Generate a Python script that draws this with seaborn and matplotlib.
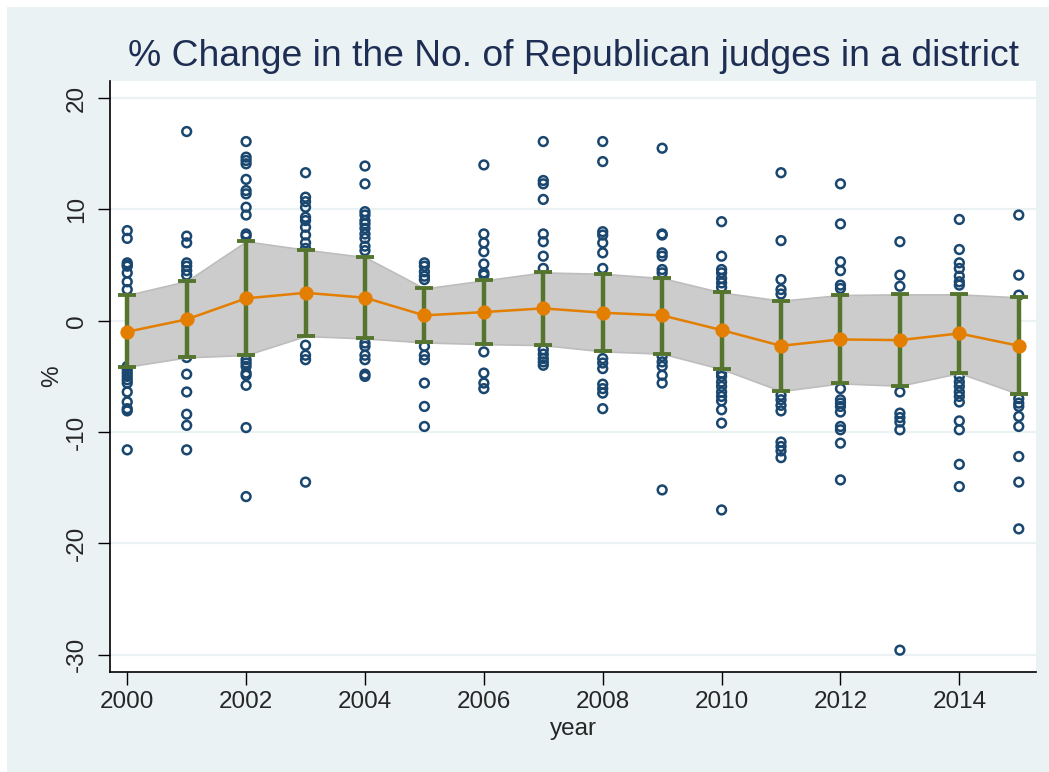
import numpy as np
import pandas as pd
import matplotlib
matplotlib.use("Agg")
import matplotlib.pyplot as plt
from matplotlib.patches import Rectangle
import seaborn as sns

# ---- data: % change in the number of Republican judges per district ----
years = list(range(2000, 2016))

changes_2000 = [8.1, 7.4, 5.2, 5.0, 4.9, 4.3, 3.5, 2.8, -4.1, -4.4, -4.7, -5.0, -5.3, -5.6, -6.4, -7.3, -7.9, -8.1, -11.6]
changes_2001 = [17.0, 7.6, 7.0, 5.2, 4.9, 4.5, 4.1, -3.3, -4.8, -6.4, -8.4, -9.4, -11.6]
changes_2002 = [16.1, 14.7, 14.4, 14.1, 12.7, 11.7, 11.4, 10.2, 9.5, 7.8, 7.6, -3.5, -3.8, -4.1, -4.7, -4.9, -5.8, -9.6, -15.8]
changes_2003 = [13.3, 11.1, 10.7, 10.2, 9.3, 9.0, 8.4, 7.7, 7.0, 6.5, -2.2, -3.1, -3.5, -14.5]
changes_2004 = [13.9, 12.3, 9.8, 9.5, 9.0, 8.7, 8.3, 7.8, 7.4, 6.7, 6.3, -2.0, -2.3, -3.1, -3.5, -4.8, -5.0]
changes_2005 = [5.2, 4.9, 4.4, 4.0, 3.7, -2.3, -3.1, -3.5, -5.6, -7.7, -9.5]
changes_2006 = [14.0, 7.8, 7.0, 6.2, 5.1, 4.3, 4.1, -2.8, -4.7, -5.6, -6.1]
changes_2007 = [16.1, 12.6, 12.3, 10.9, 7.8, 7.1, 5.8, 4.7, -2.6, -3.0, -3.4, -3.7, -4.0]
changes_2008 = [16.1, 14.3, 8.0, 7.7, 7.0, 6.1, 4.7, -3.4, -3.8, -4.3, -5.7, -6.1, -6.5, -7.9]
changes_2009 = [15.5, 7.8, 7.7, 6.1, 5.8, 4.6, 4.3, -3.2, -3.7, -4.1, -4.9, -5.6, -15.2]
changes_2010 = [8.9, 5.8, 4.6, 4.3, 3.8, 3.4, 3.0, -4.7, -5.0, -5.5, -5.9, -6.4, -6.8, -7.2, -8.0, -9.2, -17.0]
changes_2011 = [13.3, 7.2, 3.7, 2.8, 2.4, -6.7, -7.1, -7.6, -8.1, -10.9, -11.3, -11.7, -12.3]
changes_2012 = [12.3, 8.7, 5.3, 4.5, 3.2, 2.9, -6.1, -7.1, -7.4, -7.7, -8.2, -9.5, -9.8, -11.0, -14.3]
changes_2013 = [7.1, 4.1, 3.1, -6.4, -8.3, -8.7, -9.1, -9.8, -29.6]
changes_2014 = [9.1, 6.4, 5.2, 4.7, 4.0, 3.5, 3.2, -5.0, -5.5, -5.9, -6.4, -6.8, -7.3, -9.0, -9.8, -12.9, -14.9]
changes_2015 = [9.5, 4.1, 2.3, -7.0, -7.4, -7.7, -8.6, -9.5, -12.2, -14.5, -18.7]

yearly_mean = [-0.99, 0.12, 2.01, 2.51, 2.07, 0.48, 0.78, 1.11, 0.72, 0.48,
               -0.84, -2.25, -1.68, -1.74, -1.14, -2.25]
band_high = [2.31, 3.56, 7.13, 6.38, 5.72, 2.90, 3.62, 4.34, 4.22, 3.83,
             2.54, 1.80, 2.31, 2.37, 2.37, 2.10]
band_low = [-4.13, -3.29, -3.08, -1.38, -1.59, -1.95, -2.10, -2.19, -2.75, -2.96,
            -4.34, -6.32, -5.63, -5.84, -4.70, -6.59]

y_ticks = [-30, -20, -10, 0, 10, 20]
x_ticks = [2000, 2002, 2004, 2006, 2008, 2010, 2012, 2014]

per_year = [changes_2000, changes_2001, changes_2002, changes_2003, changes_2004,
            changes_2005, changes_2006, changes_2007, changes_2008, changes_2009,
            changes_2010, changes_2011, changes_2012, changes_2013, changes_2014,
            changes_2015]

points = pd.DataFrame(
    [(yr, v) for yr, vals in zip(years, per_year) for v in vals],
    columns=["year", "pct"],
)
summary = pd.DataFrame({"year": years, "mean": yearly_mean,
                        "lo": band_low, "hi": band_high})

# ---- styling ----
sns.set_theme(style="white")
plt.rcParams['font.family'] = ['Liberation Sans', 'DejaVu Sans']

BG = "#EAF2F3"
NAVY = "#1A476F"
GREEN = "#55752F"
ORANGE = "#E37E00"
FS = 17.5

W, H = 1049, 772
fig = plt.figure(figsize=(W / 100, H / 100), dpi=100, facecolor=BG)
# thin white margin along the top and left edges
fig.patches.append(Rectangle((0, 1 - 7 / H), 1, 7 / H, transform=fig.transFigure,
                             facecolor="white", edgecolor="none", zorder=-1))
fig.patches.append(Rectangle((0, 0), 7 / W, 1, transform=fig.transFigure,
                             facecolor="white", edgecolor="none", zorder=-1))

ax = fig.add_axes([110 / W, 1 - 672 / H, (1036 - 110) / W, (672 - 81) / H])
ax.set_facecolor("white")

# individual districts
sns.scatterplot(data=points, x="year", y="pct", ax=ax, marker="o",
                facecolor="none", edgecolor=NAVY, linewidth=1.8, s=40,
                legend=False, zorder=2)

# confidence band covering the middle of each year's distribution
ax.fill_between(summary["year"], summary["lo"], summary["hi"],
                color="#CCCCCC", edgecolor="#BDBDBD", linewidth=1.2, zorder=3)

# capped interval bars
ax.errorbar(summary["year"], summary["mean"],
            yerr=[summary["mean"] - summary["lo"], summary["hi"] - summary["mean"]],
            fmt="none", ecolor=GREEN, elinewidth=3.2, capsize=6.5, capthick=2.8,
            zorder=4)

# yearly mean
sns.lineplot(data=summary, x="year", y="mean", ax=ax, color=ORANGE,
             linewidth=1.8, marker="o", markersize=9.5, markeredgecolor=ORANGE,
             zorder=5)

ax.set_xlim(1999.71, 2015.29)
ax.set_ylim(-31.56, 21.54)
ax.set_xticks(x_ticks)
ax.set_yticks(y_ticks)
ax.set_xticklabels([str(t) for t in x_ticks], fontsize=FS)
ax.set_yticklabels([str(t) for t in y_ticks], fontsize=FS, rotation=90,
                   va="center")
ax.tick_params(axis="x", which="major", direction="out", length=9, width=1.0,
               color="black", pad=5, bottom=True)
ax.tick_params(axis="y", which="major", direction="out", length=9, width=1.0,
               color="black", pad=7, left=True)
ax.grid(axis="y", color=BG, linewidth=1.6)
ax.grid(axis="x", visible=False)
ax.set_axisbelow(True)

for side in ["top", "right"]:
    ax.spines[side].set_visible(False)
for side in ["left", "bottom"]:
    ax.spines[side].set_color("black")
    ax.spines[side].set_linewidth(1.2)

ax.set_xlabel("year", fontsize=FS, labelpad=3)
ax.set_ylabel("%", fontsize=FS, labelpad=2)

fig.text(573 / W, 1 - 56 / H, "% Change in the No. of Republican judges in a district",
         ha="center", va="center", fontsize=26.8, color="#1E2D53")

fig.savefig("out.png", dpi=100, facecolor=BG)
